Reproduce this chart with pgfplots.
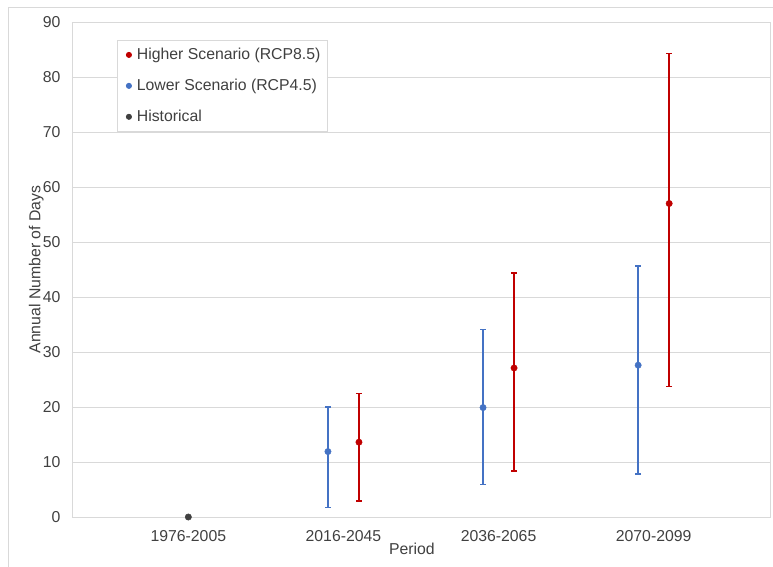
\documentclass[border=0pt]{standalone}
\usepackage{pgfplots}
\pgfplotsset{compat=1.18}
\usepackage{pgfplotstable}
\usepackage{fontspec}
\setmainfont{Liberation Sans}
\definecolor{hi}{HTML}{C00000}
\definecolor{lo}{HTML}{4472C4}
\definecolor{hist}{HTML}{404040}
\definecolor{txt}{HTML}{404040}
\definecolor{gridc}{HTML}{D9D9D9}

% x y low high
\pgfplotstableread{
x y lo hi
1 0 0 0
}\histdata
\pgfplotstableread{
x y lo hi
1.9 11.9 1.7 20.0
2.9 19.9 5.9 34.1
3.9 27.6 7.8 45.6
}\lowdata
\pgfplotstableread{
x y lo hi
2.1 13.6 2.9 22.5
3.1 27.1 8.4 44.4
4.1 57.0 23.7 84.3
}\highdata

\begin{document}
\begin{tikzpicture}
\useasboundingbox (-72pt,-49pt) rectangle (701pt,517pt);
\draw[color=gridc, line width=0.8pt] (-64pt,-80pt) -- (-64pt,510pt) -- (720pt,510pt);
\begin{axis}[
  at={(0,0)}, anchor=south west,
  scale only axis, width=698pt, height=495pt,
  xmin=0.25, xmax=4.75, ymin=0, ymax=90,
  ytick={0,10,...,90},
  xtick={1,2,3,4},
  xticklabels={1976-2005,2016-2045,2036-2065,2070-2099},
  axis line style={draw=gridc, line width=0.8pt},
  major tick style={draw=none},
  ymajorgrids, grid style={draw=gridc, line width=0.8pt},
  font=\fontsize{15.8}{19}\selectfont,
  /pgf/number format/assume math mode=true,
  tick label style={text=txt, font=\fontsize{15.8}{19}\selectfont},
  xticklabel style={anchor=base, yshift=-24pt},
  yticklabel style={xshift=-8pt},
  xlabel={Period}, ylabel={Annual Number of Days},
  label style={text=txt, font=\fontsize{15.8}{19}\selectfont},
  xlabel style={at={(axis description cs:0.487,-0.0646)}, anchor=center},
  ylabel style={at={(axis description cs:-0.051,0.5)}, anchor=center},
  clip=false,
  legend style={at={(axis description cs:0.0645,0.9636)}, anchor=north west,
    draw=gridc, line width=0.8pt, fill=white, text=txt,
    font=\fontsize{15.8}{19}\selectfont,
    row sep=16pt, inner xsep=5pt, inner ysep=7pt,
    nodes={inner xsep=1.5pt, inner ysep=1pt}},
  legend cell align=left,
  legend image code/.code={\path[draw=none, fill=none] (0pt,-3pt) rectangle (13pt,3pt); \draw[#1] plot coordinates {(6.5pt,0pt)};},
]
\addlegendimage{only marks, mark=*, mark size=2.6pt, color=hi, mark options={fill=hi, draw=hi}}
\addlegendentry{Higher Scenario (RCP8.5)}
\addlegendimage{only marks, mark=*, mark size=2.6pt, color=lo, mark options={fill=lo, draw=lo}}
\addlegendentry{Lower Scenario (RCP4.5)}
\addlegendimage{only marks, mark=*, mark size=2.6pt, color=hist, mark options={fill=hist, draw=hist}}
\addlegendentry{Historical}

\addplot+[forget plot, only marks, mark=*, mark size=3.2pt, color=lo, mark options={fill=lo, draw=lo},
  error bars/.cd, y dir=both, y explicit,
  error bar style={line width=2pt, color=lo},
  error mark options={line width=1.5pt, mark size=3pt, rotate=90}]
  table[x=x, y=y, y error plus expr=\thisrow{hi}-\thisrow{y}, y error minus expr=\thisrow{y}-\thisrow{lo}] {\lowdata};
\addplot+[forget plot, only marks, mark=*, mark size=3.2pt, color=hi, mark options={fill=hi, draw=hi},
  error bars/.cd, y dir=both, y explicit,
  error bar style={line width=2pt, color=hi},
  error mark options={line width=1.5pt, mark size=3pt, rotate=90}]
  table[x=x, y=y, y error plus expr=\thisrow{hi}-\thisrow{y}, y error minus expr=\thisrow{y}-\thisrow{lo}] {\highdata};
\addplot+[forget plot, only marks, mark=*, mark size=3.2pt, color=hist, mark options={fill=hist, draw=hist}]
  table[x=x, y=y] {\histdata};
\end{axis}
\end{tikzpicture}
\end{document}
